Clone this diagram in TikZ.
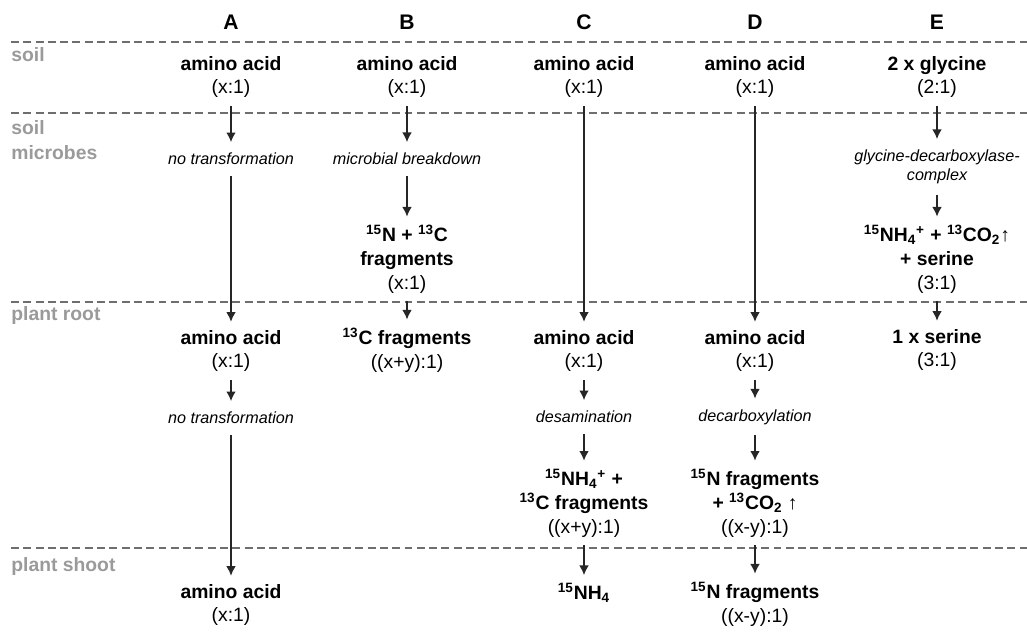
\documentclass[tikz,border=0pt]{standalone}
\usepackage{fontspec}
\setmainfont{Liberation Sans}
\usetikzlibrary{arrows.meta}
\definecolor{zonegray}{HTML}{9A9A9A}
\definecolor{linegray}{HTML}{6E6E6E}
\newcommand{\ammon}{NH\textsubscript{4}\textsuperscript{+}}
\begin{document}
\begin{tikzpicture}
	[x=0.02cm,y=-0.02cm,
	 pool/.style={align=center,inner ysep=4.5pt,font=\fontsize{11}{13.6}\selectfont},
	 proc/.style={align=center,inner ysep=6pt,font=\fontsize{9.2}{10.8}\selectfont\itshape},
	 head/.style={font=\fontsize{12}{14}\selectfont\bfseries},
	 zonelabel/.style={anchor=west,align=left,inner sep=0pt,text=zonegray,font=\fontsize{11}{13.6}\selectfont\bfseries},
	 zone/.style={draw=linegray,line width=0.6pt,dash pattern=on 4.5pt off 2.5pt},
	 flow/.style={->,line width=0.9pt,draw=black!85},
	 >={Latex[length=5.5pt,width=5.5pt]}]
	\useasboundingbox (0,0) rectangle (1027,634);
	% compartments
	\foreach \y in {42,113,302,548}
		\draw[zone] (11,\y) -- (1027,\y);
	\node[zonelabel,name=soil] at (11,55) {soil};
	\node[zonelabel,name=microbes] at (11,140) {soil\\[1pt]microbes};
	\node[zonelabel,name=root] at (11,316) {plant root};
	\node[zonelabel,name=shoot] at (11,567) {plant shoot};
	% column heads
	\node[head,name=hA] at (231,22) {A};
	\node[head,name=hB] at (407,22) {B};
	\node[head,name=hC] at (584,22) {C};
	\node[head,name=hD] at (755,22) {D};
	\node[head,name=hE] at (937,22) {E};
	% A
	\node[pool,name=a1] at (231,77) {\textbf{amino acid}\\(x:1)};
	\node[proc,name=a2] at (231,159) {no transformation};
	\node[pool,name=a3] at (231,351) {\textbf{amino acid}\\(x:1)};
	\node[proc,name=a4] at (231,418) {no transformation};
	\node[pool,name=a5] at (231,605) {\textbf{amino acid}\\(x:1)};
	\draw[flow] (a1) -- (a2);
	\draw[flow] (a2) -- (a3);
	\draw[flow] (a3) -- (a4);
	\draw[flow] (a4) -- (a5);
	% B
	\node[pool,name=b1] at (407,77) {\textbf{amino acid}\\(x:1)};
	\node[proc,name=b2] at (407,159) {microbial breakdown};
	\node[pool,name=b3] at (407,259) {\textbf{\textsuperscript{15}N + \textsuperscript{13}C}\\\textbf{fragments}\\(x:1)};
	\node[pool,name=b4] at (407,350) {\textbf{\textsuperscript{13}C fragments}\\((x+y):1)};
	\draw[flow] (b1) -- (b2);
	\draw[flow] (b2) -- (b3);
	\draw[flow] (b3) -- (b4);
	% C
	\node[pool,name=c1] at (584,77) {\textbf{amino acid}\\(x:1)};
	\node[pool,name=c2] at (584,351) {\textbf{amino acid}\\(x:1)};
	\node[proc,name=c3] at (584,417) {desamination};
	\node[pool,name=c4] at (584,503) {\textbf{\textsuperscript{15}\ammon{} +}\\\textbf{\textsuperscript{13}C fragments}\\((x+y):1)};
	\node[pool,name=c5] at (584,593) {\textbf{\textsuperscript{15}NH\textsubscript{4}}};
	\draw[flow] (c1) -- (c2);
	\draw[flow] (c2) -- (c3);
	\draw[flow] (c3) -- (c4);
	\draw[flow] (c4) -- (c5);
	% D
	\node[pool,name=d1] at (755,77) {\textbf{amino acid}\\(x:1)};
	\node[pool,name=d2] at (755,351) {\textbf{amino acid}\\(x:1)};
	\node[proc,name=d3] at (755,417) {decarboxylation};
	\node[pool,name=d4] at (755,503) {\textbf{\textsuperscript{15}N fragments}\\\textbf{+ \textsuperscript{13}CO\textsubscript{2} ↑}\\((x-y):1)};
	\node[pool,name=d5] at (755,604) {\textbf{\textsuperscript{15}N fragments}\\((x-y):1)};
	\draw[flow] (d1) -- (d2);
	\draw[flow] (d2) -- (d3);
	\draw[flow] (d3) -- (d4);
	\draw[flow] (d4) -- (d5);
	% E
	\node[pool,name=e1] at (937,77) {\textbf{2 x glycine}\\(2:1)};
	\node[proc,name=e2] at (937,167) {glycine-decarboxylase-\\complex};
	\node[pool,name=e3] at (937,259) {\textbf{\textsuperscript{15}\ammon{} + \textsuperscript{13}CO\textsubscript{2}↑}\\\textbf{+ serine}\\(3:1)};
	\node[pool,name=e4] at (937,350) {\textbf{1 x serine}\\(3:1)};
	\draw[flow] (e1) -- (e2);
	\draw[flow] (e2) -- (e3);
	\draw[flow] (e3) -- (e4);
\end{tikzpicture}
\end{document}
